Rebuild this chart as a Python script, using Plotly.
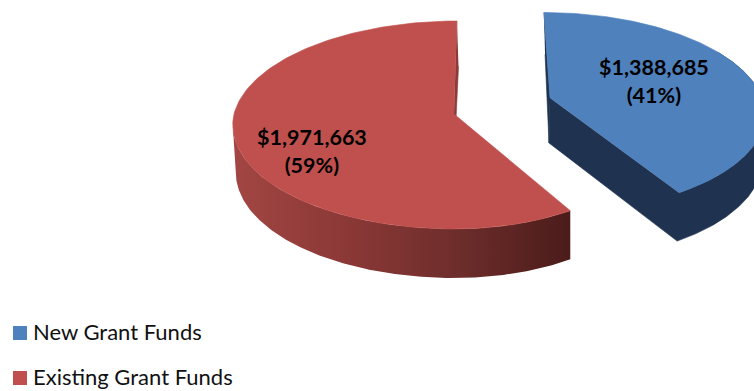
import math
import plotly.graph_objects as go

categories = ["New Grant Funds", "Existing Grant Funds"]
amounts = [1388685, 1971663]
shares = [41, 59]
top_colors = ["#4F81BD", "#C0504D"]
wall_colors = ["#1F3350", "#8E3A38"]
red_side_scale = [[0, "#A24643"], [0.35, "#8A3836"], [0.65, "#6F2E2C"], [1, "#4B1C1A"]]

W, H = 754, 391
total = sum(amounts)
split = 360 * amounts[0] / total


def rim(deg, g):
    """Perspective projection of a pie rim angle (clockwise from 12 o'clock)."""
    th = math.radians(deg)
    X, Y = math.sin(th), -math.cos(th)
    den = 1 - g["k"] * Y
    b = g["br"] if X > 0 else g["bl"]
    s = g["sb"] if Y > 0 else g["st"]
    return g["cx"] + (b * X + s * Y) / den, g["cy"] + g["a"] * Y / den


def arc(a0, a1, g, n=160):
    pts = [rim(a0 + (a1 - a0) * i / n, g) for i in range(n + 1)]
    return [p[0] for p in pts], [p[1] for p in pts]


blue_top = dict(cx=550, cy=98, k=0.14, a=97.5, bl=212, br=212, st=6.9, sb=4.3)
blue_low = dict(cx=549, cy=143, k=0.14, a=101, bl=211, br=211, st=4.5, sb=4)
red_top = dict(cx=454, cy=114, k=0.1058, a=102.8, bl=220, br=204, st=-3.3, sb=0)
red_low = dict(cx=454, cy=161, k=0.1058, a=104.6, bl=217, br=204, st=-5, sb=0)

fig = go.Figure()


def poly(xs, ys, color=None, gradient=None):
    if gradient:
        kw = dict(fillgradient=gradient, line=dict(width=0))
    else:
        kw = dict(fillcolor=color, line=dict(width=0.6, color=color))
    fig.add_trace(go.Scatter(x=xs, y=ys, mode="lines", fill="toself",
                             showlegend=False, hoverinfo="skip", **kw))


# Red slice: back wall, outer side, top
tx, ty = rim(360, red_top)
lx, ly = rim(360, red_low)
poly([tx, red_top["cx"], red_low["cx"], lx], [ty, red_top["cy"], red_low["cy"], ly], wall_colors[1])
sx, sy = arc(split, 264, red_top)
ex, ey = arc(split, 264, red_low)
poly(sx + ex[::-1], sy + ey[::-1],
     gradient=dict(type="horizontal", colorscale=red_side_scale))
ax, ay = arc(split, 360, red_top)
poly([red_top["cx"]] + ax, [red_top["cy"]] + ay, top_colors[1])

# Blue slice: left wall, then cut face and outer side as one band, then top
tx, ty = rim(0, blue_top)
lx, ly = rim(0, blue_low)
poly([tx, blue_top["cx"], blue_low["cx"], lx], [ty, blue_top["cy"], blue_low["cy"], ly], wall_colors[0])
sx, sy = arc(60, split, blue_top)
ex, ey = arc(60, split, blue_low)
poly(sx + [blue_top["cx"], blue_low["cx"]] + ex[::-1],
     sy + [blue_top["cy"], blue_low["cy"]] + ey[::-1], wall_colors[0])
ax, ay = arc(0, split, blue_top)
poly([blue_top["cx"]] + ax, [blue_top["cy"]] + ay, top_colors[0])

# Legend entries
legend_y = [333, 378]
for i, name in enumerate(categories):
    fig.add_trace(go.Scatter(x=[20], y=[legend_y[i]], mode="markers", name=name,
                             marker=dict(symbol="square", size=14, color=top_colors[i]),
                             showlegend=False, hoverinfo="skip"))
    fig.add_annotation(x=33, y=legend_y[i], xref="x", yref="y", xanchor="left", xshift=-2, yshift=2,
                       showarrow=False, text=name,
                       font=dict(family="Lato", size=22, color="#111111"))

# Data labels
label_pos = [(654, 81), (312, 151)]
for i in range(2):
    fig.add_annotation(x=label_pos[i][0], y=label_pos[i][1], xref="x", yref="y", showarrow=False,
                       text=f"<b>${amounts[i]:,}<br>({shares[i]}%)</b>",
                       font=dict(family="Lato", size=21.5, color="#000000"), align="center")

fig.update_layout(
    width=W, height=H, margin=dict(l=0, r=0, t=0, b=0),
    paper_bgcolor="white", plot_bgcolor="white", showlegend=False,
    xaxis=dict(range=[0, W], visible=False, fixedrange=True),
    yaxis=dict(range=[H, 0], visible=False, fixedrange=True),
)
fig.write_html("out.html", config={"displayModeBar": False},
               post_script="document.body.style.margin='0';document.body.style.overflow='hidden';"
                           "window.dispatchEvent(new Event('resize'));")
